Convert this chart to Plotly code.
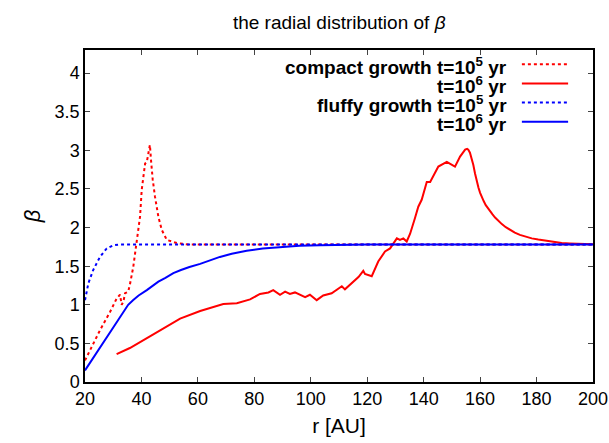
import plotly.graph_objects as go

# compact growth, t = 1e5 yr
r_c5 = [20.0, 22.9, 25.3, 28.9, 31.2, 32.4, 33.0, 33.6, 34.2, 35.3, 35.9, 37.1, 38.3,
        39.5, 40.1, 41.3, 41.9, 42.4, 43.0, 43.4, 44.0, 44.8, 46.0, 47.2, 49.0, 52.5,
        56.6, 80.0, 120.0, 160.0, 200.0]
b_c5 = [0.28, 0.50, 0.67, 0.91, 1.08, 1.13, 1.00, 1.04, 1.15, 1.17, 1.26, 1.49, 1.84,
        2.14, 2.49, 2.83, 2.85, 2.94, 3.07, 2.87, 2.62, 2.40, 2.14, 1.97, 1.84, 1.80,
        1.78, 1.78, 1.78, 1.78, 1.78]

# compact growth, t = 1e6 yr
r_c6 = [31.2, 35.9, 43.0, 52.5, 53.7, 60.8, 65.5, 69.0, 73.8, 78.5, 82.0, 85.0, 86.7,
        89.1, 90.9, 92.6, 94.4, 96.2, 98.0, 99.7, 102.1, 104.4, 107.4, 111.0, 112.1,
        116.9, 118.6, 119.2, 121.6, 123.9, 126.3, 128.1, 130.5, 131.6, 132.8, 134.0,
        135.2, 136.9, 138.1, 139.3, 141.1, 142.3, 143.4, 145.2, 148.2, 151.1, 152.9,
        154.0, 154.7, 155.4, 155.8, 156.4, 157.0, 157.6, 158.2, 158.8, 159.4, 160.0,
        160.6, 161.3, 162.0, 162.7, 163.5, 164.4, 165.3, 166.5, 167.7, 169.1, 170.6,
        172.3, 174.1, 176.1, 178.3, 180.6, 183.0, 185.9, 188.9, 191.8, 194.8, 197.4, 200.0]
b_c6 = [0.36, 0.44, 0.59, 0.80, 0.82, 0.92, 0.97, 1.01, 1.02, 1.07, 1.14, 1.16, 1.19,
        1.13, 1.17, 1.14, 1.16, 1.13, 1.10, 1.13, 1.06, 1.12, 1.15, 1.24, 1.20,
        1.36, 1.44, 1.40, 1.37, 1.56, 1.69, 1.73, 1.86, 1.84, 1.86, 1.82,
        1.92, 2.12, 2.27, 2.36, 2.59, 2.59, 2.66, 2.79, 2.85, 2.79, 2.92,
        2.98, 3.01, 3.02, 3.01, 2.97, 2.90, 2.81, 2.70, 2.60, 2.52, 2.45,
        2.39, 2.34, 2.29, 2.25, 2.21, 2.17, 2.13, 2.085, 2.045, 2.005, 1.97,
        1.935, 1.905, 1.88, 1.86, 1.845, 1.83, 1.815, 1.80, 1.795, 1.79, 1.787, 1.785]

# fluffy growth, t = 1e5 yr
r_f5 = [20.0, 21.2, 22.9, 25.3, 27.7, 30.0, 32.0, 60.0, 100.0, 150.0, 200.0]
b_f5 = [1.06, 1.28, 1.45, 1.62, 1.73, 1.77, 1.78, 1.78, 1.78, 1.78, 1.78]

# fluffy growth, t = 1e6 yr
r_f6 = [20.0, 35.3, 37.0, 39.0, 41.9, 44.0, 46.0, 48.5, 51.3, 54.0, 57.0, 60.8, 64.0,
        67.8, 72.0, 77.3, 83.0, 89.1, 96.0, 103.3, 110.0, 120.0, 160.0, 200.0]
b_f6 = [0.15, 1.00, 1.06, 1.12, 1.19, 1.25, 1.30, 1.35, 1.41, 1.45, 1.49, 1.53, 1.57,
        1.62, 1.66, 1.70, 1.73, 1.75, 1.765, 1.77, 1.775, 1.78, 1.78, 1.78]

x_ticks = [20, 40, 60, 80, 100, 120, 140, 160, 180, 200]
y_ticks = [0, 0.5, 1, 1.5, 2, 2.5, 3, 3.5, 4]

RED = "#ff0000"
BLUE = "#0000ff"
FONT = "Liberation Sans, Arial, Helvetica, sans-serif"

series = [
    (r_c5, b_c5, RED, "dot", "compact growth t=10<sup>5</sup> yr"),
    (r_c6, b_c6, RED, "solid", "t=10<sup>6</sup> yr"),
    (r_f5, b_f5, BLUE, "dot", "fluffy growth t=10<sup>5</sup> yr"),
    (r_f6, b_f6, BLUE, "solid", "t=10<sup>6</sup> yr"),
]

fig = go.Figure()
for xs, ys, col, dash, name in series:
    fig.add_trace(go.Scatter(x=xs, y=ys, mode="lines", name=name,
                             line=dict(color=col, width=2, dash=dash),
                             showlegend=False))

# key in the upper right: right-aligned labels followed by line samples
text_y = [0.952, 0.895, 0.837, 0.780]
line_y = [0.957, 0.899, 0.842, 0.784]
for (xs, ys, col, dash, name), ty, ly in zip(series, text_y, line_y):
    fig.add_annotation(x=0.835, y=ty, xref="paper", yref="paper", text="<b>" + name + "</b>",
                       showarrow=False, xanchor="right", yanchor="middle",
                       font=dict(family=FONT, size=19, color="black"))
    fig.add_shape(type="line", xref="paper", yref="paper",
                  x0=0.860, x1=0.951, y0=ly, y1=ly,
                  line=dict(color=col, width=2, dash=dash))

fig.update_layout(
    width=609, height=443,
    margin=dict(l=85, r=16, t=50, b=61, autoexpand=False),
    paper_bgcolor="white", plot_bgcolor="white",
    font=dict(family=FONT, size=18, color="black"),
    title=dict(text="the radial distribution of <i>β</i>", x=0.557, xanchor="center",
               y=0.95, yanchor="middle", font=dict(family=FONT, size=19)),
)
fig.update_xaxes(range=[20, 200], tickvals=x_ticks, ticks="inside", ticklen=5,
                 showline=True, linecolor="black", linewidth=1.5, mirror="allticks",
                 showgrid=False, zeroline=False, automargin=False,
                 tickfont=dict(size=18),
                 title=dict(text="r [AU]", font=dict(size=21), standoff=10))
fig.update_yaxes(range=[0, 4.3], tickvals=y_ticks, ticks="inside", ticklen=5,
                 showline=True, linecolor="black", linewidth=1.5, mirror="allticks",
                 showgrid=False, zeroline=False, automargin=False,
                 tickfont=dict(size=18),
                 title=dict(text="<i>β</i>", font=dict(size=22), standoff=8))

fig.write_html("out.html")
